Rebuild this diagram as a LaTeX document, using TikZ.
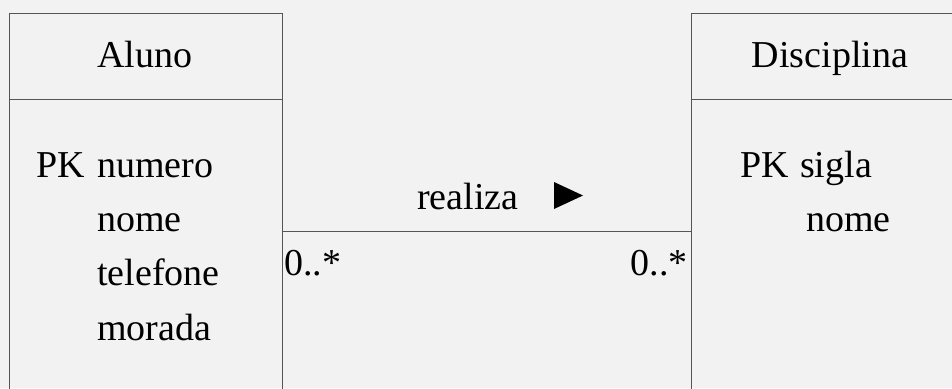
\documentclass[tikz,border=0pt]{standalone}
\usepackage{fontspec}
\setmainfont{Liberation Serif}
\usetikzlibrary{calc}

\definecolor{bgcol}{RGB}{242,242,242}
\definecolor{linecol}{RGB}{85,85,85}

\tikzset{
  classbox/.style={draw=linecol,line width=1pt,rectangle,inner sep=0pt,anchor=north west},
  txt/.style={inner sep=0pt,anchor=base west,font=\fontsize{38}{46}\selectfont},
}

\begin{document}
\begin{tikzpicture}[x=1pt,y=-1pt]
%frame
\useasboundingbox (0,0) rectangle (952,388);
\clip (0,0) rectangle (952,388);
\fill[bgcol] (0,0) rectangle (952,388);

%classes
\node[classbox,minimum width=273pt,minimum height=436.6pt] (aluno) at (9,12.7) {};
\node[classbox,minimum width=278pt,minimum height=436.6pt] (disciplina) at (691,12.7) {};
\draw[linecol,line width=1pt] ([yshift=-87pt]aluno.north west) -- ([yshift=-87pt]aluno.north east);
\draw[linecol,line width=1pt] ([yshift=-87pt]disciplina.north west) -- ([yshift=-87pt]disciplina.north east);

\node[txt,anchor=base] (alunoname) at (145,67) {Aluno};
\node[txt,anchor=base] (discname) at (830,67) {Disciplina};

%attributes
\node[txt] (pkA) at (36,177) {PK};
\node[txt] (numero) at (97,177) {numero};
\node[txt] (nomeA) at (97,231) {nome};
\node[txt] (telefone) at (97,285) {telefone};
\node[txt] (morada) at (97,340) {morada};

\node[txt] (pkD) at (740,177) {PK};
\node[txt] (sigla) at (800,177) {sigla};
\node[txt] (nomeD) at (806,231) {nome};

%association
\draw[linecol,line width=1pt] (aluno.east) -- (disciplina.west);
\node[txt] (realiza) at (417,209) {realiza};
\fill (554,182) -- (583,195.5) -- (554,209) -- cycle;
\node[txt] (multA) at (284,275) {0..*};
\node[txt,anchor=base east] (multD) at (688,275) {0..*};
\end{tikzpicture}
\end{document}
